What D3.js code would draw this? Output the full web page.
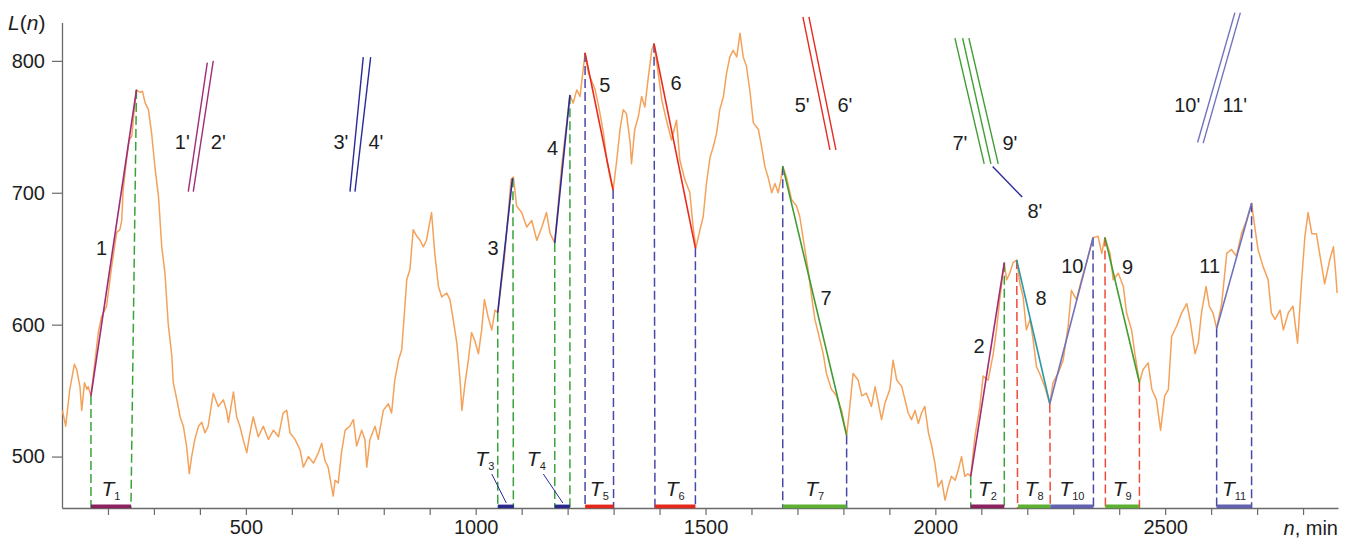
<!DOCTYPE html>
<html><head><meta charset="utf-8">
<script src="https://cdn.jsdelivr.net/npm/d3@7"></script>
<style>body{margin:0;background:#fff}svg{display:block;font-family:"Liberation Sans",Arial,sans-serif}</style>
</head><body><svg id="chart" width="1354" height="548"></svg>
<script>
// ---------- data ----------
const minutes = [101,108,117,127,132,139,143,149,154,157,163,179,186,197,208,219,226,230,233,241,
246,252,255,262,270,275,281,288,295,302,310,317,324,331,339,342,350,357,364,371,
377,382,389,397,404,411,418,429,440,451,458,462,473,480,487,494,502,509,516,527,
538,549,560,571,581,589,596,607,618,625,636,647,658,665,672,679,690,694,701,708,
716,726,734,741,752,759,763,770,781,788,799,810,817,824,832,839,846,850,857,864,
872,879,886,893,904,911,919,926,937,944,951,959,966,970,977,984,991,998,1006,1013,
1019,1027,1035,1042,1048,1062,1077,1082,1089,1100,1111,1122,1133,1144,1154,1162,1172,1187,1205,1212,
1220,1227,1238,1245,1260,1270,1278,1285,1292,1299,1307,1314,1321,1328,1336,1339,1346,1354,1361,1368,
1375,1383,1388,1397,1405,1415,1426,1437,1444,1455,1466,1473,1479,1488,1495,1502,1510,1517,1524,1531,
1539,1546,1553,1560,1568,1575,1582,1589,1597,1604,1615,1622,1629,1636,1644,1651,1658,1664,1668,1676,
1687,1698,1705,1713,1723,1731,1738,1745,1756,1763,1774,1785,1796,1807,1814,1821,1832,1840,1850,1861,
1869,1883,1890,1901,1908,1916,1927,1934,1941,1948,1956,1963,1970,1977,1985,1992,1999,2006,2014,2021,
2028,2035,2043,2050,2057,2064,2071,2077,2086,2097,2104,2115,2126,2133,2140,2150,2155,2162,2169,2177,
2184,2191,2198,2206,2213,2220,2227,2238,2249,2256,2267,2278,2289,2296,2307,2318,2329,2338,2343,2354,
2362,2369,2380,2387,2398,2409,2416,2427,2434,2444,2452,2463,2471,2481,2490,2499,2507,2514,2525,2536,
2547,2554,2565,2572,2579,2589,2596,2604,2612,2623,2634,2644,2655,2666,2677,2688,2695,2702,2713,2724,
2731,2739,2750,2757,2768,2778,2788,2797,2804,2811,2819,2829,2837,2847,2858,2866,2871,2874];
const level = [535,523,551,570,566,553,535,556,551,553,546,594,606,614,644,670,672,679,702,727,
740,743,755,778,776,777,768,763,745,720,697,659,639,601,576,556,543,530,523,508,
487,500,513,523,526,518,523,548,538,543,535,526,549,530,523,513,503,518,530,515,
523,513,520,515,533,535,518,513,505,492,500,495,503,510,497,492,470,482,480,503,
520,523,528,508,520,513,492,513,523,513,535,540,533,558,573,581,614,634,642,672,
667,664,659,664,685,654,629,621,624,619,604,586,558,535,556,573,594,588,578,596,
619,606,596,611,609,649,710,712,690,685,674,679,664,674,685,669,662,720,774,768,
778,773,806,791,778,761,745,725,712,702,725,748,763,760,738,722,748,758,773,765,
786,808,813,791,770,755,740,755,725,710,700,674,658,672,682,707,727,735,745,763,
773,791,803,808,803,821,803,796,776,753,748,735,720,712,700,707,700,710,720,712,
695,690,682,664,642,621,604,594,578,563,551,546,535,516,538,563,558,546,548,538,
553,528,540,551,573,558,553,543,533,528,535,525,533,538,518,508,495,477,482,467,
477,485,482,490,500,485,487,485,515,538,561,558,578,596,619,647,634,639,647,649,
631,621,596,604,588,568,563,553,540,556,563,573,599,626,619,634,647,659,666,667,
654,666,654,634,639,629,609,596,578,556,566,571,551,543,520,546,551,591,599,609,
616,604,578,586,609,629,614,609,597,616,654,657,652,669,679,692,674,657,644,634,
609,604,611,596,609,614,586,634,667,685,669,669,652,631,649,659,639,624];

const xTicks = d3.range(200, 2900, 100);
const xTickLabels = [500, 1000, 1500, 2000, 2500];
const yTicks = [500, 600, 700, 800];

// trend segments (minutes, level)
const segNames  = ["1","2","3","4","5","6","7","8","9","10","11"];
const segStartN = [163, 2077, 1048, 1172, 1238, 1388, 1668, 2177, 2369, 2249, 2612];
const segStartL = [546,  485,  609,  662,  806,  813,  720,  649,  666,  540,  597];
const segEndN   = [262, 2150, 1080, 1205, 1299, 1478, 1807, 2249, 2444, 2343, 2688];
const segEndL   = [778,  647,  711,  774,  702,  658,  516,  540,  556,  666,  692];
const segGroup  = ["mag","mag","blue","blue","red","red","green","teal","green","lav","lav"];
// segment number label anchors (minutes, level)
const segLabelN = [186, 2095, 1038, 1167, 1281, 1436, 1762, 2230, 2418, 2298, 2597];
const segLabelL = [658,  584,  658,  734,  782,  783,  620,  620,  644,  645,  645];

// intervals T_k on the time axis
const intSub   = ["1","2","3","4","5","6","7","8","9","10","11"];
const intStart = [163, 2077, 1048, 1172, 1238, 1390, 1668, 2180, 2370, 2250, 2612];
const intEnd   = [250, 2150, 1083, 1205, 1300, 1478, 1807, 2250, 2443, 2344, 2688];
const intGroup = ["mag","mag","blue","blue","red","red","green","green","green","lav","lav"];

// dashed drop lines: top point (minutes, level) -> axis at minutes
const dropTopN = [163, 262, 2077, 2150, 1048, 1081, 1172, 1205, 1238, 1299, 1388, 1478, 1668, 1807, 2177, 2249, 2343, 2369, 2444, 2612, 2688];
const dropTopL = [546, 778,  485,  647,  609,  711,  662,  774,  806,  702,  813,  658,  720,  516,  649,  540,  666,  666,  556,  597,  692];
const dropBotN = [163, 250, 2077, 2150, 1048, 1082, 1172, 1205, 1238, 1300, 1390, 1478, 1668, 1807, 2179, 2250, 2344, 2370, 2444, 2612, 2688];
const dropGroup = ["green","green","green","green","green","green","green","green","blue","blue","blue","blue","blue","blue","red","red","blue","red","red","blue","blue"];

// slope indicator lines (primed)
const slopeN0 = [374.7, 385.6, 726.5, 737.4, 1711.9, 1725.0, 2042.6, 2059.3, 2073.0, 2124.6, 2570.5, 2582.7];
const slopeL0 = [700.9, 700.9, 700.9, 700.9, 833.4, 833.4, 817.2, 817.2, 817.2, 719.9, 738.1, 737.6];
const slopeN1 = [416.1, 429.1, 755.4, 771.5, 1770.7, 1783.7, 2106.3, 2120.9, 2136.8, 2189.0, 2651.7, 2663.6];
const slopeL1 = [798.7, 800.0, 802.8, 802.8, 732.5, 732.5, 721.9, 721.9, 721.9, 696.7, 836.6, 836.6];
const slopeGroup = ["mag","mag","blue","blue","red","red","green","green","green","blue","lav","lav"];
const primeText = ["1'","2'","3'","4'","5'","6'","7'","9'","8'","10'","11'"];
const primeN    = [361.7, 440.0, 706.9, 783.0, 1710.4, 1803.3, 2053.4, 2162.2, 2216.6, 2547.9, 2651.6];
const primeL    = [738.8, 738.8, 738.8, 738.8, 766.6, 766.6, 738.1, 738.1, 686.5, 766.6, 766.6];

// ---------- styles ----------
const lineColor = {mag:"#a02c76", blue:"#2b2b98", red:"#e82a20", green:"#3f9d31", teal:"#2a98a6", lav:"#7272bd"};
const dropColor = {green:"#3aa23a", blue:"#4848a8", red:"#f04a3a"};
const barColor  = {mag:"#8c215f", blue:"#2a2a8e", red:"#e6281a", green:"#5cb132", lav:"#6262b0"};
const textColor = "#1e1e1e";
const axisColor = "#6a6a6a";

// ---------- scales ----------
const svg = d3.select("#chart");
const x = d3.scaleLinear().domain([100, 2876]).range([62, 1338]);
const y = d3.scaleLinear().domain([461, 829]).range([508, 22.6]);
const axisY = y(461);

// axes
const gx = svg.append("g").attr("transform", `translate(0,${axisY})`)
  .call(d3.axisBottom(x).tickValues(xTicks).tickSize(7).tickSizeOuter(0).tickPadding(5)
    .tickFormat(d => xTickLabels.includes(d) ? d : ""));
const gy = svg.append("g").attr("transform", `translate(${x(100)},0)`)
  .call(d3.axisLeft(y).tickValues(yTicks).tickSize(10).tickSizeOuter(0).tickPadding(7));
[gx, gy].forEach(g => {
  g.select(".domain").attr("stroke", axisColor).attr("stroke-width", 1.3);
  g.selectAll(".tick line").attr("stroke", axisColor).attr("stroke-width", 1.2);
  g.selectAll(".tick text").attr("fill", textColor).attr("font-size", 20)
    .attr("font-family", '"Liberation Sans",Arial,sans-serif');
});

// orange series
const series = minutes.map((m, i) => [m, level[i]]);
svg.append("path").datum(series)
  .attr("fill", "none").attr("stroke", "#f4a25a").attr("stroke-width", 1.5)
  .attr("stroke-linejoin", "round")
  .attr("d", d3.line().x(d => x(d[0])).y(d => y(d[1])));

// dashed drop lines
svg.append("g").selectAll("line").data(dropTopN).join("line")
  .attr("x1", (d, i) => x(d)).attr("y1", (d, i) => y(dropTopL[i]))
  .attr("x2", (d, i) => x(dropBotN[i])).attr("y2", axisY)
  .attr("stroke", (d, i) => dropColor[dropGroup[i]]).attr("stroke-width", 1.5)
  .attr("stroke-dasharray", "9,4");

// trend segments
svg.append("g").selectAll("line").data(segNames).join("line")
  .attr("x1", (d, i) => x(segStartN[i])).attr("y1", (d, i) => y(segStartL[i]))
  .attr("x2", (d, i) => x(segEndN[i])).attr("y2", (d, i) => y(segEndL[i]))
  .attr("stroke", (d, i) => lineColor[segGroup[i]]).attr("stroke-width", 1.6);

// slope indicator lines
svg.append("g").selectAll("line").data(slopeN0).join("line")
  .attr("x1", (d) => x(d)).attr("y1", (d, i) => y(slopeL0[i]))
  .attr("x2", (d, i) => x(slopeN1[i])).attr("y2", (d, i) => y(slopeL1[i]))
  .attr("stroke", (d, i) => lineColor[slopeGroup[i]]).attr("stroke-width", 1.4);

// interval bars
svg.append("g").selectAll("line").data(intSub).join("line")
  .attr("x1", (d, i) => x(intStart[i])).attr("x2", (d, i) => x(intEnd[i]))
  .attr("y1", axisY - 1.6).attr("y2", axisY - 1.6)
  .attr("stroke", (d, i) => barColor[intGroup[i]]).attr("stroke-width", 3.6);

// segment number labels
svg.append("g").selectAll("text").data(segNames).join("text")
  .attr("x", (d, i) => x(segLabelN[i])).attr("y", (d, i) => y(segLabelL[i]))
  .attr("dy", "0.36em").attr("text-anchor", "middle")
  .attr("font-size", 20).attr("fill", textColor).text(d => d);

// primed labels
svg.append("g").selectAll("text").data(primeText).join("text")
  .attr("x", (d, i) => x(primeN[i])).attr("y", (d, i) => y(primeL[i]))
  .attr("dy", "0.36em").attr("text-anchor", "middle")
  .attr("font-size", 20).attr("fill", textColor).text(d => d);

// interval labels T_k
const raised = {"3": {dx: -21, lead: true}, "4": {dx: -26, lead: true}};
intSub.forEach((s, i) => {
  const cx = (x(intStart[i]) + x(intEnd[i])) / 2;
  const r = raised[s];
  const tx = r ? cx + r.dx : cx;
  const ty = r ? axisY - 42 : axisY - 12;
  const t = svg.append("text").attr("x", tx).attr("y", ty)
    .attr("text-anchor", "middle").attr("fill", textColor);
  t.append("tspan").attr("font-style", "italic").attr("font-size", 21).text("T");
  t.append("tspan").attr("font-size", 11).attr("dy", 4).text(s);
  if (r) {
    svg.append("line")
      .attr("x1", tx + 7).attr("y1", axisY - 34)
      .attr("x2", cx + 0.5).attr("y2", axisY - 5)
      .attr("stroke", lineColor.blue).attr("stroke-width", 1);
  }
});

// axis titles
const ly = svg.append("text").attr("x", 8).attr("y", 30).attr("font-size", 21).attr("fill", textColor);
ly.append("tspan").attr("font-style", "italic").text("L");
ly.append("tspan").text("(");
ly.append("tspan").attr("font-style", "italic").text("n");
ly.append("tspan").text(")");

const lx = svg.append("text").attr("x", 1338).attr("y", 535).attr("text-anchor", "end")
  .attr("font-size", 20).attr("fill", textColor);
lx.append("tspan").attr("font-style", "italic").text("n");
lx.append("tspan").text(", min");
</script></body></html>
